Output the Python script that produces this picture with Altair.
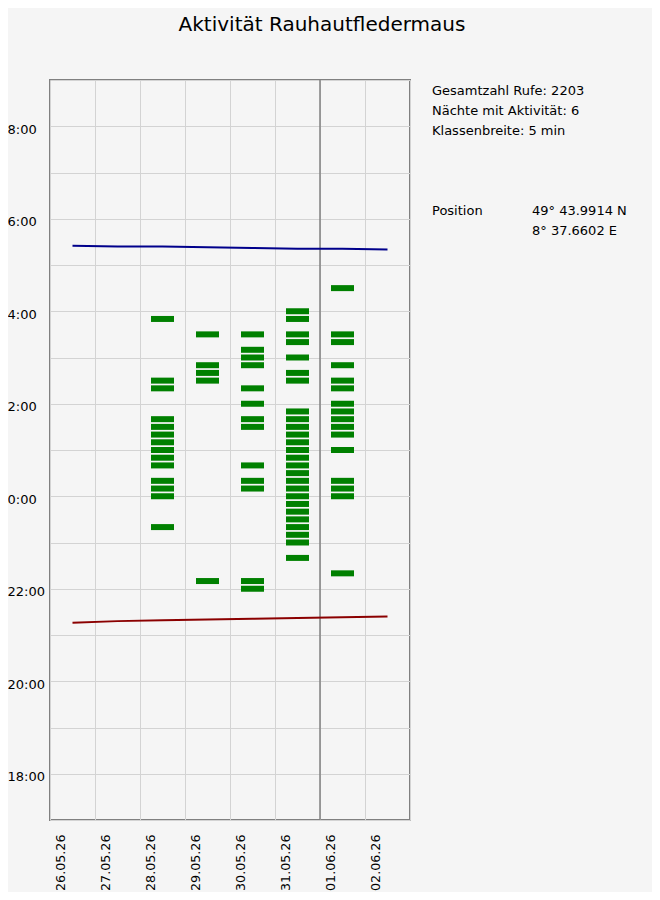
import altair as alt
import pandas as pd

# ---------------- data ----------------
night_labels = ["26.05.26", "27.05.26", "28.05.26", "29.05.26",
                "30.05.26", "31.05.26", "01.06.26", "02.06.26"]

# 5-min classes with activity, per night (clock time)
calls_28_05 = ["03:50", "02:30", "02:20", "01:40", "01:30", "01:20", "01:10",
               "01:00", "00:50", "00:40", "00:20", "00:10", "00:00", "23:20"]
calls_29_05 = ["03:30", "02:50", "02:40", "02:30", "22:10"]
calls_30_05 = ["03:30", "03:10", "03:00", "02:50", "02:20", "02:00", "01:40",
               "01:30", "00:40", "00:20", "00:10", "22:10", "22:00"]
calls_31_05 = ["04:00", "03:50", "03:30", "03:20", "03:00", "02:40", "02:30",
               "01:50", "01:40", "01:30", "01:20", "01:10", "01:00", "00:50",
               "00:40", "00:30", "00:20", "00:10", "00:00", "23:50", "23:40",
               "23:30", "23:20", "23:10", "23:00", "22:40"]
calls_01_06 = ["04:30", "03:30", "03:20", "02:50", "02:30", "02:20", "02:00",
               "01:50", "01:40", "01:30", "01:20", "01:00", "00:20", "00:10",
               "00:00", "22:20"]

calls_by_night = {
    "28.05.26": calls_28_05,
    "29.05.26": calls_29_05,
    "30.05.26": calls_30_05,
    "31.05.26": calls_31_05,
    "01.06.26": calls_01_06,
}

sunset = ["21:16", "21:18", "21:19", "21:20", "21:21", "21:22", "21:23", "21:24"]
sunrise = ["05:25", "05:24", "05:24", "05:23", "05:22", "05:21", "05:21", "05:20"]

y_tick_hours = list(range(5, 22))  # hours after noon (17:00 .. 09:00)

title_text = "Aktivität Rauhautfledermaus"
info_lines = ["Gesamtzahl Rufe: 2203", "Nächte mit Aktivität: 6", "Klassenbreite: 5 min"]
position_label = "Position"
position_lines = ["49° 43.9914 N", "8° 37.6602 E"]

# ---------------- helpers ----------------
def hours_after_noon(t):
    h, m = map(int, t.split(":"))
    v = h + m / 60.0 - 12
    if v < 0:
        v += 24
    return v

FONT = "DejaVu Sans"
n = len(night_labels)

bars = pd.DataFrame([
    {"night": night_labels.index(k) + 0.5, "t": hours_after_noon(t)}
    for k, lst in calls_by_night.items() for t in lst
])
sun = pd.DataFrame({
    "night": [i + 0.5 for i in range(n)],
    "sunset": [hours_after_noon(t) for t in sunset],
    "sunrise": [hours_after_noon(t) for t in sunrise],
})
month_change = pd.DataFrame({"x": [i for i, d in enumerate(night_labels)
                                   if d.startswith("01.") and i > 0]})

label_array = "[" + ",".join("'%s'" % d for d in night_labels) + "]"

x_scale = alt.Scale(domain=[0, n], nice=False, zero=False)
y_scale = alt.Scale(domain=[5, 21], nice=False, zero=False)

x_axis = alt.Axis(values=list(range(0, n + 1)), title=None, domain=False,
                  ticks=False, tickSize=0, grid=True, gridColor="#d3d3d3",
                  gridWidth=1, labelAngle=270, labelAlign="right",
                  labelBaseline="middle", labelPadding=14, labelOffset=10,
                  labelFont=FONT, labelFontSize=12.7, labelColor="#000000",
                  labelExpr="datum.value < %d ? %s[datum.value] : ''" % (n, label_array))
y_axis = alt.Axis(values=y_tick_hours, title=None, domain=False, ticks=False,
                  tickSize=0, grid=True, gridColor="#d3d3d3", gridWidth=1,
                  labelAlign="left", labelBaseline="middle", labelPadding=43,
                  labelOffset=3, labelFont=FONT, labelFontSize=13,
                  labelColor="#000000",
                  labelExpr="datum.value % 2 == 0 ? ((datum.value + 12) % 24) + ':00' : ''")

# ---------------- layers ----------------
grid = alt.Chart(sun).mark_point(opacity=0).encode(
    x=alt.X("night:Q", scale=x_scale, axis=x_axis),
    y=alt.Y("sunset:Q", scale=y_scale, axis=y_axis),
)

month_rule = alt.Chart(month_change).mark_rule(color="#808080", strokeWidth=1.5).encode(
    x=alt.X("x:Q", scale=x_scale),
)

sunset_line = alt.Chart(sun).mark_line(color="#8b0000", strokeWidth=2).encode(
    x=alt.X("night:Q", scale=x_scale),
    y=alt.Y("sunset:Q", scale=y_scale),
)
sunrise_line = alt.Chart(sun).mark_line(color="#00008b", strokeWidth=2).encode(
    x=alt.X("night:Q", scale=x_scale),
    y=alt.Y("sunrise:Q", scale=y_scale),
)

bar_layer = alt.Chart(bars).mark_tick(color="#008000", size=23, thickness=6,
                                      orient="horizontal", opacity=1).encode(
    x=alt.X("night:Q", scale=x_scale),
    y=alt.Y("t:Q", scale=y_scale),
)

info_text = alt.Chart(pd.DataFrame({"a": [0]})).mark_text(
    align="left", baseline="alphabetic", font=FONT, fontSize=13,
    color="#000000", lineHeight=20,
).encode(x=alt.value(382), y=alt.value(15), text=alt.value(info_lines))

pos_label = alt.Chart(pd.DataFrame({"a": [0]})).mark_text(
    align="left", baseline="alphabetic", font=FONT, fontSize=13,
    color="#000000",
).encode(x=alt.value(382), y=alt.value(135), text=alt.value(position_label))

pos_text = alt.Chart(pd.DataFrame({"a": [0]})).mark_text(
    align="left", baseline="alphabetic", font=FONT, fontSize=13,
    color="#000000", lineHeight=20,
).encode(x=alt.value(482), y=alt.value(135), text=alt.value(position_lines))

chart = alt.layer(
    grid, month_rule, sunset_line, sunrise_line, bar_layer,
    info_text, pos_label, pos_text,
).properties(
    width=360,
    height=740,
    autosize=alt.AutoSizeParams(type="none"),
    padding={"left": 42, "top": 72, "right": 242, "bottom": 72},
    background="#f5f5f5",
    title=alt.TitleParams(title_text, font=FONT, fontSize=20,
                          fontWeight="normal", color="#000000",
                          anchor="middle", dx=92, offset=28,
                          baseline="alphabetic"),
).configure_view(
    stroke="#808080", strokeWidth=2, fill="#f5f5f5",
)

chart.save("out.html", embed_options={"renderer": "svg", "actions": False})
